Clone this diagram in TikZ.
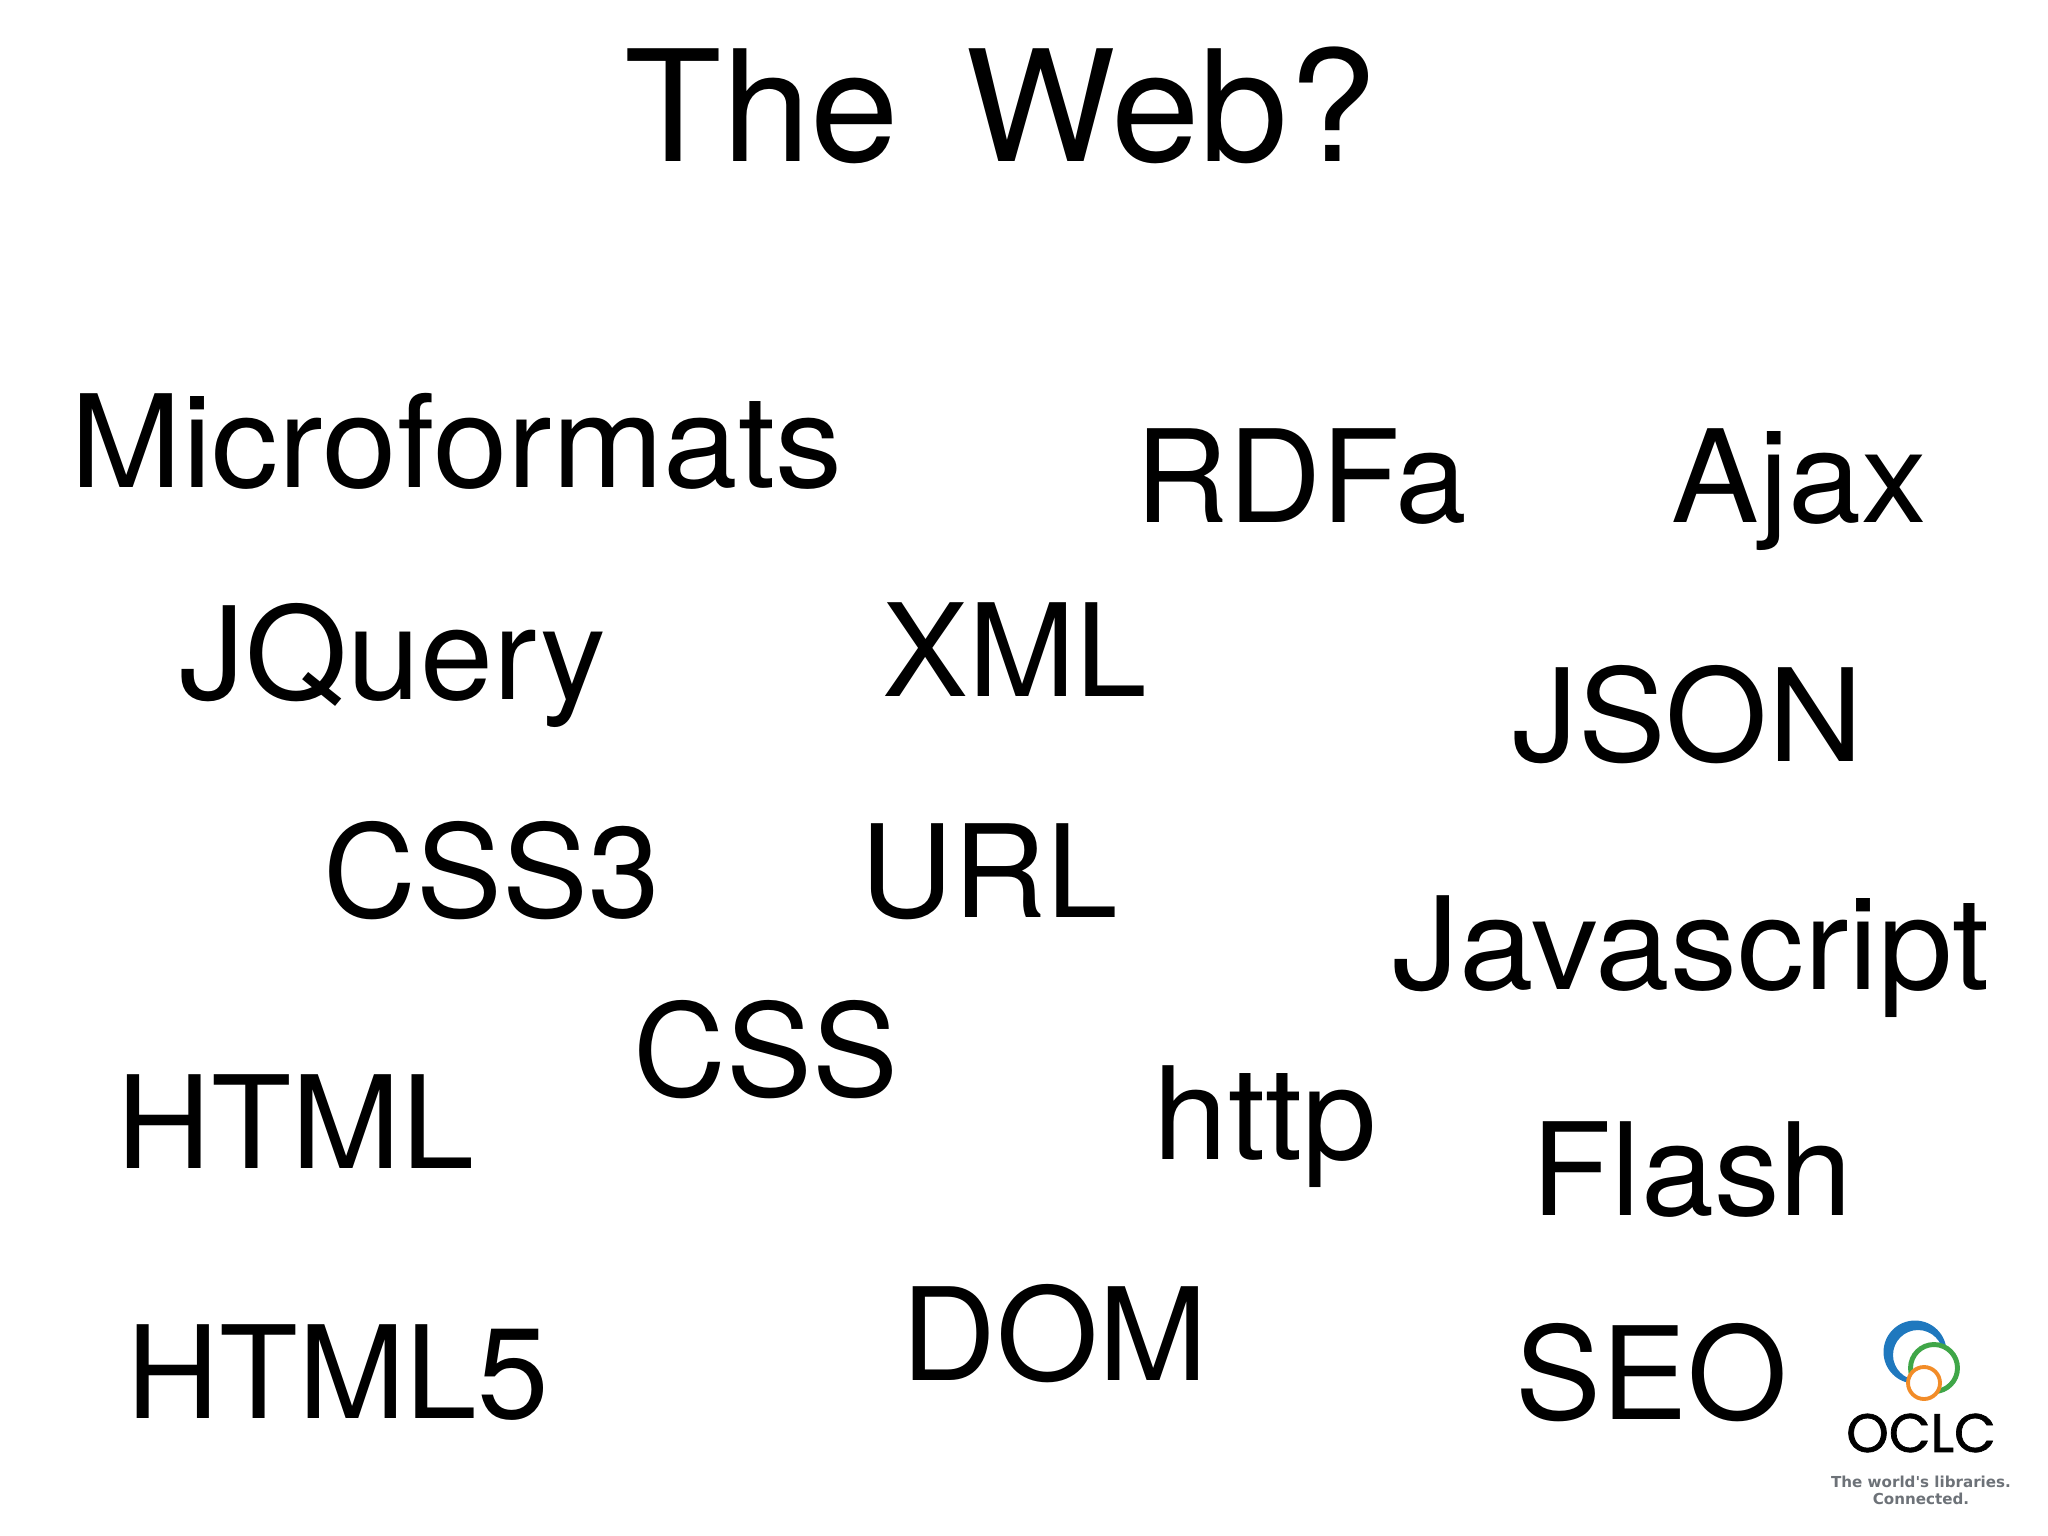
\documentclass[tikz,border=0pt]{standalone}
\usepackage{fontspec}
\setmainfont{TeX Gyre Heros}
\newfontfamily\midfont[FakeStretch=1.02]{TeX Gyre Heros}
\newfontfamily\widefont[FakeStretch=1.04]{TeX Gyre Heros}
\newfontfamily\titlefont[FakeStretch=1.03]{TeX Gyre Heros}
\newfontfamily\logofont[FakeBold=1.3]{Poppins}
\newfontfamily\tagfont{DejaVu Sans}
\usetikzlibrary{positioning,calc}
\definecolor{oclcblue}{HTML}{1F78BE}
\definecolor{oclcgreen}{HTML}{3FA648}
\definecolor{oclcorange}{HTML}{F28C28}
\definecolor{oclcgray}{HTML}{6D7278}
\tikzset{
    word/.style={anchor=base west,inner sep=0pt,font=\fontsize{36.6}{44}\selectfont},
    midword/.style={word,font=\midfont\fontsize{36.6}{44}\selectfont},
    wideword/.style={word,font=\widefont\fontsize{36.6}{44}\selectfont},
    title/.style={anchor=base west,inner sep=0pt,font=\titlefont\fontsize{44}{50}\selectfont},
    tagline/.style={inner sep=0pt,text=oclcgray,font=\tagfont\bfseries\fontsize{4.3}{7}\selectfont}
}

\begin{document}
\begin{tikzpicture}[x=0.01cm,y=-0.01cm]
    \useasboundingbox (0,0) rectangle (2048,1536);
    \node (Title) [title] at (624,161) {The\ \hspace{6.2pt}Web?};
    \node (Microformats) [wideword] at (70,487) {Microformats};
    \node (RDFa) [word] at (1135,522) {RDFa};
    \node (Ajax) [midword] at (1671,522) {Ajax};
    \node (JQuery) [midword] at (179,699) {JQuery};
    \node (XML) [word] at (882,696) {XML};
    \node (JSON) [midword] at (1512,761) {JSON};
    \node (CSS3) [word] at (323,917) {CSS3};
    \node (URL) [word] at (860,917) {URL};
    \node (Javascript) [wideword] at (1392,989) {Javascript};
    \node (CSS) [word] at (633,1096) {CSS};
    \node (HTML) [midword] at (116,1168) {HTML};
    \node (http) [wideword] at (1153,1159) {http};
    \node (Flash) [midword] at (1531,1215) {Flash};
    \node (DOM) [midword] at (901,1380) {DOM};
    \node (HTML5) [word] at (126,1418) {HTML5};
    \node (SEO) [word] at (1515,1419) {SEO};
    % logo
    \fill[oclcblue,even odd rule] (1915,1352) circle (31.5) (1918,1355) circle (25);
    \draw[oclcgreen,line width=1.4pt,fill=white] (1934,1368) circle (23.5);
    \draw[oclcorange,line width=1.1pt,fill=white] (1924,1383) circle (16);
    \node (OCLC) [inner sep=0pt,font=\logofont\fontsize{15.4}{18}\selectfont] at (1921,1433) {OCLC};
    \node (World) [tagline] at (1921,1482) {The world's libraries.};
    \node (Connected) [tagline,below=1.2pt of World] {Connected.};
\end{tikzpicture}
\end{document}
